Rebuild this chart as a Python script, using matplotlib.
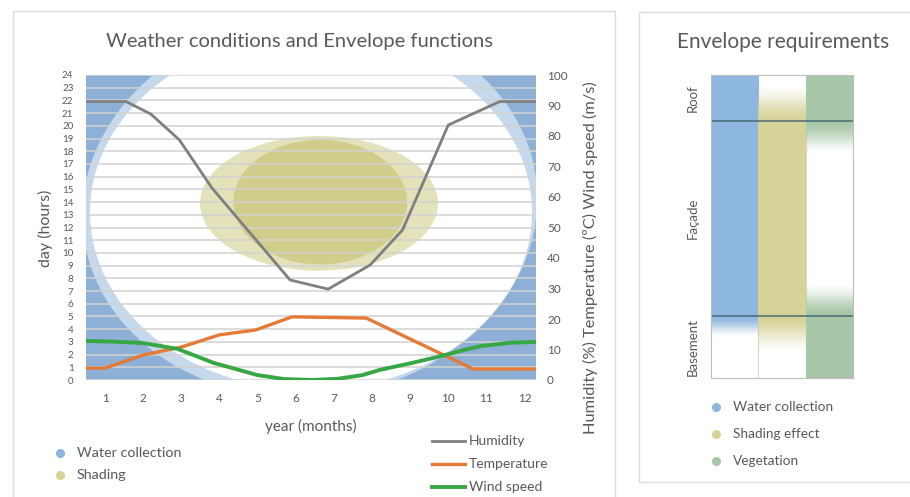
import matplotlib.pyplot as plt
import numpy as np
from matplotlib.patches import Ellipse, Rectangle
from matplotlib.lines import Line2D
from matplotlib.transforms import Affine2D
from matplotlib.colors import to_rgb

plt.rcParams['font.family'] = ['Lato', 'DejaVu Sans']
GREY = '#595959'

# weather lines (x in months, value on right axis)
hum_x = [0.5, 1.55, 2.2, 2.95, 3.8, 5.85, 6.85, 7.95, 8.8, 10.0, 11.35, 12.3]
hum_y = [91.3, 91.3, 87.2, 78.7, 63.0, 32.8, 29.8, 37.7, 49.2, 83.6, 91.3, 91.3]
temp_x = [0.5, 1.0, 2.0, 3.0, 4.0, 4.95, 5.9, 7.85, 10.65, 12.3]
temp_y = [3.9, 3.9, 8.2, 10.8, 14.8, 16.4, 20.7, 20.3, 3.6, 3.6]
wind_x = [0.5, 1.2, 2.0, 2.9, 3.85, 5.0, 5.7, 6.45, 7.1, 7.75, 8.2, 9.05, 9.7, 10.4, 10.85, 11.6, 12.3]
wind_y = [12.8, 12.6, 12.1, 10.2, 5.6, 1.6, 0.3, 0.0, 0.4, 1.6, 3.3, 5.6, 7.5, 9.8, 11.1, 12.2, 12.5]
months = list(range(1, 13))
hours = list(range(0, 25))

# envelope function zones (centre month, centre hour, width months, height hours, tilt deg)
water_outer = (6.37, 13.6, 11.96, 29.9, 7)
water_inner = (6.40, 13.2, 11.59, 28.0, 0)
shade_outer = (6.61, 13.9, 6.24, 10.6, 0)
shade_inner = (6.64, 14.0, 4.56, 9.8, 0)

# envelope requirements (rows bottom -> top)
levels = ['Basement', 'Façade', 'Roof']
level_h = [62, 195, 46]
req_names = ['Water collection', 'Shading effect', 'Vegetation']
req_colors = ['#8eb7df', '#d6d398', '#a8c6a8']
water_req = [0, 1, 1]
shade_req = [0, 1, 0]
veg_req = [1, 0, 1]
fade_len = [22, 38, 34]

fig = plt.figure(figsize=(9.1, 4.97), dpi=100)
W, H = 910, 497


def fx(px):
    return px / W


def fy(py):
    return 1 - py / H


# panel frames
fig.add_artist(Rectangle((fx(13), -0.01), fx(615) - fx(13), fy(11) + 0.01,
                         transform=fig.transFigure, fill=False, ec='#dcdcdc', lw=1))
fig.add_artist(Rectangle((fx(639), fy(482)), fx(912) - fx(639), fy(12) - fy(482),
                         transform=fig.transFigure, fill=False, ec='#dcdcdc', lw=1))

# ---------- left chart ----------
ax = fig.add_axes([fx(86), fy(380), fx(536) - fx(86), fy(75) - fy(380)])
ax.set_facecolor('#8eb0d6')
ax.set_xlim(0.5, 12.3)
ax.set_ylim(0, 24)
aspect = 3.0  # one month is drawn about as long as three hours


def zone(params, color, z):
    cx, cy, w, h, tilt = params
    tr = Affine2D().scale(1 / aspect, 1).translate(cx, cy) + ax.transData
    ax.add_patch(Ellipse((0, 0), w * aspect, h, angle=tilt, fc=color, ec='none', zorder=z,
                         transform=tr))


zone(water_outer, '#c6d8ec', 1)
zone(water_inner, 'white', 1)
zone(shade_outer, '#e4e2bb', 2)
zone(shade_inner, '#d1ce8b', 2)
for hr in hours:
    ax.axhline(hr, color='#d2d2d2', lw=1.3, alpha=0.85, zorder=3)
for s in ax.spines.values():
    s.set_visible(False)
ax.set_xticks(months)
ax.set_yticks(hours)
ax.tick_params(axis='x', length=0, pad=9, labelsize=8.5, labelcolor=GREY)
ax.tick_params(axis='y', length=0, pad=9, labelsize=7, labelcolor=GREY)

ax2 = ax.twinx()
ax2.set_ylim(0, 100)
ax2.set_yticks(range(0, 101, 10))
ax2.tick_params(axis='y', length=0, pad=8, labelsize=8.5, labelcolor=GREY)
for s in ax2.spines.values():
    s.set_visible(False)
l_h, = ax2.plot(hum_x, hum_y, color='#7f7f7f', lw=2, label='Humidity')
l_t, = ax2.plot(temp_x, temp_y, color='#e57a37', lw=2.4, label='Temperature')
l_w, = ax2.plot(wind_x, wind_y, color='#35a844', lw=2.8, label='Wind speed')

fig.text(fx(300), fy(42), 'Weather conditions and Envelope functions', ha='center', va='center',
         fontsize=14.5, color=GREY)
fig.text(fx(311), fy(426), 'year (months)', ha='center', va='center', fontsize=11, color=GREY)
fig.text(fx(45), fy(228), 'day (hours)', ha='center', va='center', rotation=90, fontsize=11.5, color=GREY)
fig.text(fx(590), fy(258), 'Humidity (%) Temperature (ºC) Wind speed (m/s)', ha='center', va='center',
         rotation=90, fontsize=11.8, color=GREY)


# legends
def dot_entry(x, y, color, text, size):
    fig.add_artist(Line2D([fx(x)], [fy(y)], marker='o', ms=5.5, color=color, ls='none',
                          transform=fig.transFigure))
    fig.text(fx(x + 17), fy(y), text, ha='left', va='center', fontsize=size, color=GREY)


dot_entry(60, 453, '#8eb3dc', 'Water collection', 10.3)
dot_entry(60, 475, '#d6d398', 'Shading', 10.3)
for line, y in zip([l_h, l_t, l_w], [441, 464, 487]):
    fig.add_artist(Line2D([fx(432), fx(465)], [fy(y), fy(y)], color=line.get_color(),
                          lw=line.get_linewidth(), transform=fig.transFigure))
    fig.text(fx(469), fy(y), line.get_label(), ha='left', va='center', fontsize=10, color=GREY)

# ---------- right chart ----------
axr = fig.add_axes([fx(711), fy(378), fx(853) - fx(711), fy(75) - fy(378)])
total = sum(level_h)
bounds = np.concatenate([[0], np.cumsum(level_h)])
yy = np.linspace(0, total, 606)
row_of = np.clip(np.searchsorted(bounds, yy, side='right') - 1, 0, len(level_h) - 1)
for c, (req, color, fl) in enumerate(zip([water_req, shade_req, veg_req], req_colors, fade_len)):
    req = np.array(req)
    alpha = req[row_of].astype(float)
    for i, b in enumerate(bounds[1:-1]):
        below, above = i, i + 1
        if req[below] != req[above]:
            empty = below if req[below] == 0 else above
            t = np.clip(1 - np.abs(yy - b) / fl, 0, 1)
            t = t * t * (3 - 2 * t)
            alpha = np.where(row_of == empty, np.maximum(alpha, t), alpha)
    rgba = np.zeros((len(yy), 1, 4))
    rgba[..., :3] = to_rgb(color)
    rgba[..., 3] = alpha[:, None]
    axr.imshow(rgba, extent=[c, c + 1, 0, total], origin='lower', aspect='auto',
               interpolation='nearest', zorder=1)
for c in [1, 2]:
    axr.axvline(c, color='#d5d5d5', lw=0.8, zorder=0.5)
for b in bounds[1:-1]:
    axr.axhline(b, color='#3d5f6d', lw=1.4, alpha=0.7, zorder=2)
axr.set_xlim(0, 3)
axr.set_ylim(0, total)
axr.set_xticks([])
axr.set_yticks((bounds[:-1] + bounds[1:]) / 2)
axr.set_yticklabels(levels, rotation=90, va='center', fontsize=9.5, color=GREY)
axr.tick_params(axis='y', length=0, pad=9)
for s in axr.spines.values():
    s.set_color('#bdbdbd')
    s.set_linewidth(0.8)

fig.text(fx(783), fy(42), 'Envelope requirements', ha='center', va='center', fontsize=15, color=GREY)
for name, color, y in zip(req_names, req_colors, [407, 434, 461]):
    dot_entry(716, y, color, name, 9.8)

fig.savefig('out.png', dpi=100)
